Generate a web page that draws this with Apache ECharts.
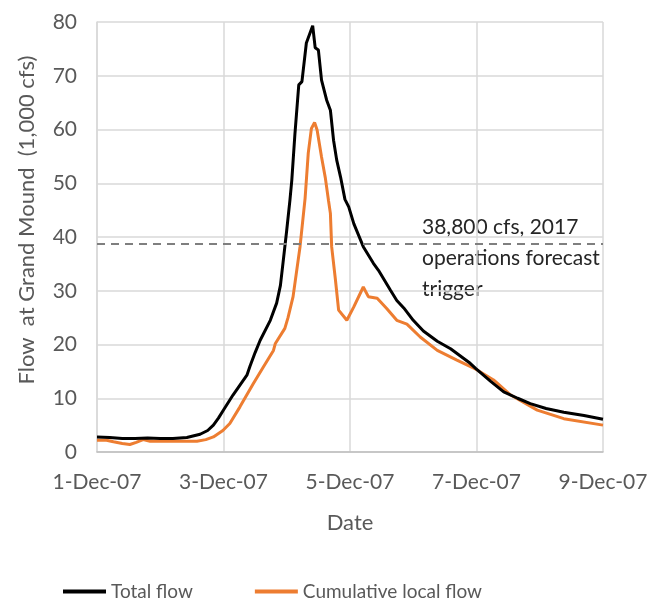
<!DOCTYPE html>
<html><head><meta charset="utf-8">
<script src="https://cdn.jsdelivr.net/npm/echarts@6/dist/echarts.min.js"></script>
<style>html,body{margin:0;padding:0;background:#fff}#c{width:659px;height:608px}</style>
</head><body><div id="c"></div>
<script>
// x = days since 1-Dec-07 00:00
const xTickLabels = ['1-Dec-07','3-Dec-07','5-Dec-07','7-Dec-07','9-Dec-07'];
const totalDays = [0,0.2,0.4,0.6,0.8,1.0,1.2,1.42,1.63,1.75,1.84,1.92,2.0,2.15,2.37,2.42,2.5,2.58,2.74,2.84,2.9,2.94,3.0,3.05,3.08,3.13,3.19,3.24,3.31,3.34,3.41,3.45,3.50,3.55,3.63,3.69,3.74,3.79,3.85,3.92,3.98,4.06,4.21,4.37,4.45,4.64,4.74,4.85,5.0,5.16,5.38,5.59,5.90,5.99,6.22,6.43,6.65,6.85,7.1,7.38,7.7,8.0];
const totalFlow = [2.8,2.7,2.5,2.5,2.6,2.5,2.5,2.7,3.3,4.0,5.0,6.3,7.8,10.6,14.3,16.0,18.5,20.8,24.5,27.7,31,35.1,41.3,46.8,50.6,59.3,68.3,68.9,76.1,76.4,79.3,75.2,74.8,69.2,65.5,63.6,58,54.3,51.2,47,45.6,42.5,38.2,35.1,33.8,30.1,28.2,26.8,24.5,22.5,20.6,19.2,16.5,15.5,13.2,11.2,10.0,9.0,8.1,7.4,6.8,6.1];
const localDays = [0,0.15,0.26,0.4,0.52,0.62,0.73,0.84,1.0,1.3,1.58,1.72,1.84,1.99,2.10,2.26,2.47,2.63,2.79,2.82,2.97,3.02,3.1,3.21,3.29,3.34,3.39,3.44,3.48,3.55,3.61,3.66,3.69,3.71,3.77,3.82,3.95,4.06,4.21,4.29,4.43,4.58,4.74,4.90,5.11,5.38,5.69,5.99,6.27,6.54,6.96,7.38,8.0];
const localFlow = [2.2,2.2,1.9,1.6,1.4,1.8,2.3,2.0,2.0,2.0,2.0,2.3,2.8,4.0,5.3,8.4,12.7,15.8,18.9,20.2,23.0,25,28.9,38.2,47.2,55.6,60.2,61.3,59.9,54.9,51,46.8,44.4,38.2,32,26.4,24.5,27.0,30.7,28.9,28.6,26.7,24.5,23.8,21.4,18.9,17.1,15.4,13.4,10.6,7.8,6.2,5.0];
const triggerValue = 38.8;
const seriesNames = ['Total flow','Cumulative local flow'];
const annotationLines = ['38,800 cfs, 2017','operations forecast','trigger'];
const yAxisTitle = 'Flow  at Grand Mound  (1,000 cfs)';
const xAxisTitle = 'Date';

const FONT = 'Lato';
const chart = echarts.init(document.getElementById('c'), null, {renderer:'canvas'});
chart.setOption({
  animation:false,
  backgroundColor:'#fff',
  textStyle:{fontFamily:FONT},
  grid:{left:97,right:56,top:22,bottom:156,containLabel:false},
  xAxis:{
    type:'value',min:0,max:8,interval:2,
    name:xAxisTitle,nameLocation:'middle',nameGap:60,
    nameTextStyle:{fontFamily:FONT,fontSize:22,color:'#595959'},
    axisLine:{show:true,lineStyle:{color:'#bfbfbf',width:1.5}},
    axisTick:{show:false},
    axisLabel:{fontFamily:FONT,fontSize:21,color:'#595959',margin:20,
      formatter:v=>xTickLabels[Math.round(v/2)]},
    splitLine:{show:true,lineStyle:{color:'#d9d9d9',width:1.5}}
  },
  yAxis:{
    type:'value',min:0,max:80,interval:10,
    axisLine:{show:true,lineStyle:{color:'#d9d9d9',width:1.5}},
    axisTick:{show:false},
    axisLabel:{fontFamily:FONT,fontSize:21,color:'#595959',margin:20},
    splitLine:{show:true,lineStyle:{color:'#d9d9d9',width:1.5}}
  },
  legend:{
    bottom:7,left:63,padding:0,itemGap:62,itemWidth:43,itemHeight:4,icon:'rect',
    textStyle:{fontFamily:FONT,fontSize:19,color:'#595959'},
    data:seriesNames
  },
  series:[
    {name:seriesNames[0],type:'line',showSymbol:false,symbol:'none',
     data:totalDays.map((d,i)=>[d,totalFlow[i]]),
     lineStyle:{color:'#000',width:3},itemStyle:{color:'#000'},z:3,
     markLine:{silent:true,symbol:'none',label:{show:false},
       lineStyle:{color:'#7f7f7f',type:[8,6],width:2},
       data:[{yAxis:triggerValue}]}},
    {name:seriesNames[1],type:'line',showSymbol:false,symbol:'none',
     data:localDays.map((d,i)=>[d,localFlow[i]]),
     lineStyle:{color:'#ed7d31',width:3},itemStyle:{color:'#ed7d31'},z:2}
  ],
  graphic:[
    {type:'text',left:422,top:212,
     style:{text:annotationLines.join('\n'),font:'21px '+FONT,fill:'#262626',lineHeight:31}},
    {type:'text',x:27,y:220,rotation:Math.PI/2,
     style:{text:yAxisTitle,font:'22px '+FONT,fill:'#595959',align:'center',verticalAlign:'middle'}}
  ]
});
</script></body></html>
